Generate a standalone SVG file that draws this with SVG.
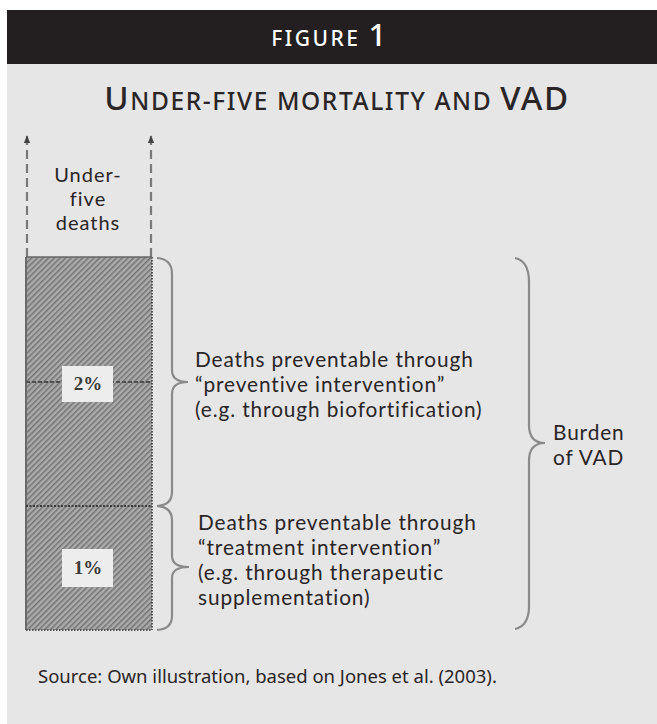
<svg xmlns="http://www.w3.org/2000/svg" width="657" height="724" viewBox="0 0 657 724">
<defs>
<pattern id="hatch" width="4" height="4" patternUnits="userSpaceOnUse" patternTransform="rotate(45)">
<rect width="4" height="4" fill="#ababab"/>
<rect width="1.5" height="4" fill="#747474"/>
</pattern>
<marker id="arr" viewBox="0 0 10 10" refX="9" refY="5" markerWidth="8" markerHeight="8" orient="auto" markerUnits="userSpaceOnUse">
<path d="M0,1 L10,5 L0,9 Z" fill="#444"/>
</marker>
</defs>
<style>
.t{font-family:"Noto Sans","Open Sans",sans-serif;fill:#2a2526;}
.l{font-family:Lato,"Noto Sans",sans-serif;fill:#2a2526;}
.lbl{font-size:20.8px;letter-spacing:0.9px;}
.brace{fill:none;stroke:#8a8a8a;stroke-width:2.2;}
.dash{stroke:#7a7a7a;stroke-width:2.2;stroke-dasharray:9 5;fill:none;}
.pct{font-family:"Liberation Serif",serif;font-size:19px;font-weight:bold;fill:#3a3a3a;}
.pbox{fill:#ededed;}
</style>
<rect width="657" height="724" fill="#ffffff"/>
<rect x="7" y="64" width="650" height="660" fill="#e6e6e6"/>
<rect x="7" y="10" width="650" height="54" fill="#231f20"/>
<g id="header">
<text x="330" y="46" text-anchor="middle" font-family="Noto Sans, sans-serif" fill="#ffffff" letter-spacing="2.5" font-weight="500"><tspan font-size="21">FIGURE </tspan><tspan font-size="31">1</tspan></text>
</g>
<g id="title">
<text x="337" y="110" text-anchor="middle" class="t" font-weight="500" letter-spacing="1.6"><tspan font-size="33">U</tspan><tspan font-size="24.5">NDER-FIVE MORTALITY AND </tspan><tspan font-size="33">VAD</tspan></text>
</g>
<g id="connectors">
<line class="dash" x1="27" y1="257" x2="27" y2="136" marker-end="url(#arr)"/>
<line class="dash" x1="151" y1="257" x2="151" y2="136" marker-end="url(#arr)"/>
<path class="brace" d="M157,258 Q172,259 172,274 L172,370 Q172,382 188,382 Q172,382 172,394 L172,492 Q172,505 157,506"/>
<path class="brace" d="M157,506 Q172,507 172,520 L172,556 Q172,567 189,567 Q172,567 172,578 L172,616 Q172,629 157,630"/>
<path class="brace" d="M515,258 Q529,261 529,282 L529,425 Q529,443 545,443 Q529,443 529,461 L529,606 Q529,626 515,629"/>
</g>
<g id="under-five">
<text class="l" font-size="20" letter-spacing="1" text-anchor="middle"><tspan x="88" y="182">Under-</tspan><tspan x="88" y="206">five</tspan><tspan x="88" y="230">deaths</tspan></text>
</g>
<g id="bar">
<rect x="26" y="257" width="126" height="373" fill="url(#hatch)"/>
<line x1="26" y1="257" x2="26" y2="630" stroke="#6a6a6a" stroke-width="2"/>
<line x1="152" y1="257" x2="152" y2="630" stroke="#555" stroke-width="2" stroke-dasharray="1.5 1.5"/>
<line x1="26" y1="257" x2="152" y2="257" stroke="#666" stroke-width="1.5"/>
<line x1="26" y1="630" x2="152" y2="630" stroke="#555" stroke-width="2" stroke-dasharray="1.5 1.5"/>
<line x1="26" y1="506" x2="152" y2="506" stroke="#3a3a3a" stroke-width="2" stroke-dasharray="2 1.5"/>
<line x1="26" y1="382" x2="152" y2="382" stroke="#505050" stroke-width="2" stroke-dasharray="4 2"/>
</g>
<g id="pct2">
<rect class="pbox" x="62" y="366" width="51" height="36"/>
<text class="pct" x="88" y="390" text-anchor="middle">2%</text>
</g>
<g id="pct1">
<rect class="pbox" x="62" y="549" width="51" height="38"/>
<text class="pct" x="88" y="574" text-anchor="middle">1%</text>
</g>
<g id="preventive">
<text class="l lbl"><tspan x="195" y="367">Deaths preventable through</tspan><tspan x="195" y="392">“preventive intervention”</tspan><tspan x="195" y="417">(e.g. through biofortification)</tspan></text>
</g>
<g id="treatment">
<text class="l lbl"><tspan x="198" y="530">Deaths preventable through</tspan><tspan x="198" y="555">“treatment intervention”</tspan><tspan x="198" y="580">(e.g. through therapeutic</tspan><tspan x="198" y="605">supplementation)</tspan></text>
</g>
<g id="burden">
<text class="l lbl"><tspan x="553" y="440">Burden</tspan><tspan x="553" y="465">of VAD</tspan></text>
</g>
<g id="source">
<text class="t" font-size="18.5" x="38" y="683">Source: Own illustration, based on Jones et al. (2003).</text>
</g>
</svg>
